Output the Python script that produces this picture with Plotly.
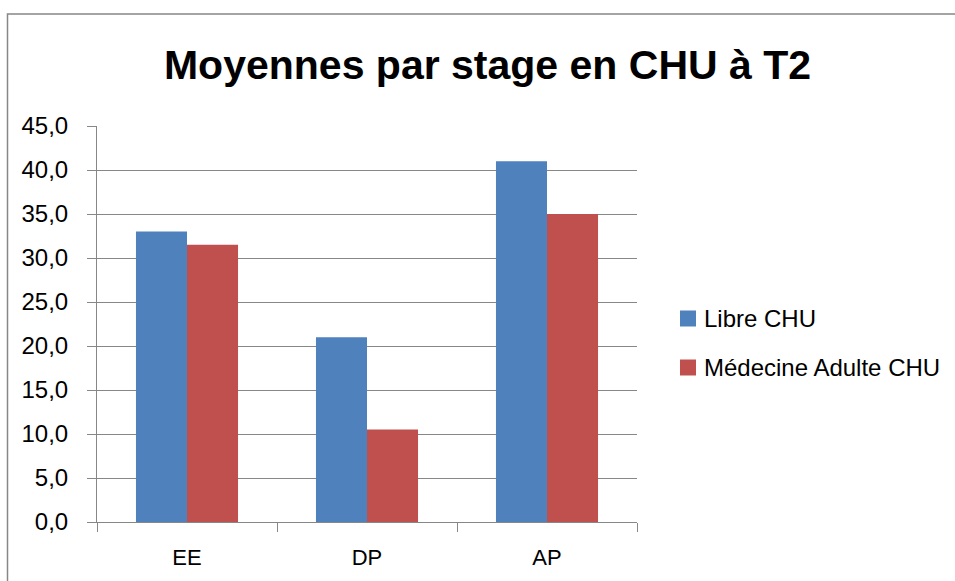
import plotly.graph_objects as go

categories = ["EE", "DP", "AP"]
series_names = ["Libre CHU", "Médecine Adulte CHU"]
libre_chu = [33.0, 21.0, 41.0]
medecine_adulte_chu = [31.5, 10.5, 35.0]
series_colors = ["#4F81BD", "#C0504D"]
y_ticks = [0, 5, 10, 15, 20, 25, 30, 35, 40, 45]
y_tick_labels = ["0,0", "5,0", "10,0", "15,0", "20,0", "25,0", "30,0", "35,0", "40,0", "45,0"]

W, H = 955, 581
L, R, T, B = 97, 637, 126, 522  # plot area in pixels
PW, PH = R - L, B - T

def px(x):
    return (x - L) / PW

def py(y):
    return (B - y) / PH

GRAY = "#878787"
FONT = "Liberation Sans, Arial, sans-serif"

fig = go.Figure()
for name, vals, col in zip(series_names, [libre_chu, medecine_adulte_chu], series_colors):
    fig.add_trace(go.Bar(x=categories, y=vals, name=name, marker_color=col,
                         marker_line_width=0))

fig.update_layout(
    width=W, height=H,
    paper_bgcolor="white", plot_bgcolor="white",
    font=dict(family=FONT, size=24, color="black"),
    title=dict(text="<b>Moyennes par stage en CHU à T2</b>", x=487.5 / W, xanchor="center",
               y=1 - 65 / H, yanchor="middle", font=dict(size=41)),
    barmode="group", bargap=0.433, bargroupgap=0,
    margin=dict(l=L, r=W - R, t=T, b=H - B, autoexpand=False),
    showlegend=False,
    xaxis=dict(showline=True, linecolor=GRAY, linewidth=1, ticks="outside",
               tickson="boundaries", ticklen=9, tickcolor=GRAY, showgrid=False,
               tickfont=dict(size=22), ticklabelstandoff=16),
    yaxis=dict(range=[0, 45], tickvals=y_ticks, ticktext=y_tick_labels, showline=True,
               linecolor=GRAY, linewidth=1, ticks="outside", ticklen=9,
               tickcolor=GRAY, showgrid=True, gridcolor=GRAY, gridwidth=1,
               zeroline=False, ticklabelstandoff=14, tickfont=dict(size=24)),
)

# chart border (extends past right and bottom edges)
fig.add_shape(type="rect", xref="paper", yref="paper", x0=px(7.5), y0=py(14), x1=px(990),
              y1=py(620), line=dict(color=GRAY, width=1.5), layer="below")

# custom legend
legend_rows = [318.5, 367.5]
for name, col, yc in zip(series_names, series_colors, legend_rows):
    fig.add_shape(type="rect", xref="paper", yref="paper", x0=px(680), x1=px(696),
                  y0=py(yc + 8), y1=py(yc - 8), fillcolor=col, line_width=0)
    fig.add_annotation(xref="paper", yref="paper", x=px(702), y=py(yc), text=name,
                       showarrow=False, xanchor="left", yanchor="middle",
                       font=dict(size=24, family=FONT))

fig.write_html("out.html", config={"displayModeBar": False},
               post_script="document.body.style.margin='0';")
